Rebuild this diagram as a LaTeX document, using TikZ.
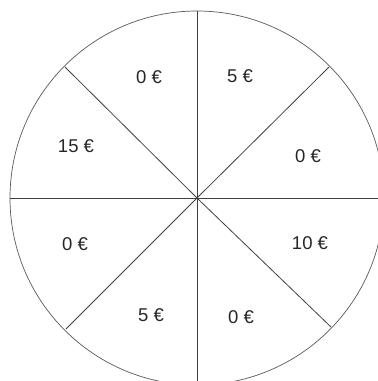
\documentclass[tikz,border=0pt]{standalone}
\usepackage{fontspec}
\setmainfont{Liberation Sans}
\usetikzlibrary{calc}
\begin{document}
\begin{tikzpicture}[x=1pt,y=-1pt,
  rim/.style={draw=black!65, line width=0.7pt},
  spoke/.style={draw=black!75, line width=0.8pt},
  amount/.style={font=\fontsize{18.5}{20}\selectfont, text=black!85, inner sep=0pt}]
\useasboundingbox (0,0) rectangle (378,381);
\clip (0,0) rectangle (378,381);
\coordinate (c) at (197,198);
\draw[rim] (c) circle[radius=187];
\coordinate (n) at (197,11);
\coordinate (s) at (197,385);
\coordinate (w) at (10,198);
\coordinate (e) at (384,198);
\coordinate (nw) at ($(c)+(-132,-131)$);
\coordinate (ne) at ($(c)+(132,-131)$);
\coordinate (sw) at ($(c)+(-131,131)$);
\coordinate (se) at ($(c)+(134,129)$);
\foreach \p in {n,s,w,e,nw,ne,sw,se}{ \draw[spoke] (c) -- (\p); }
\node[amount] (t1) at (149,77) {0 €};
\node[amount] (t2) at (240,76) {5 €};
\node[amount] (t3) at (76,146) {15 €};
\node[amount] (t4) at (308,156) {0 €};
\node[amount] (t5) at (75,244) {0 €};
\node[amount] (t6) at (310,243) {10 €};
\node[amount] (t7) at (151,315) {5 €};
\node[amount] (t8) at (241,317) {0 €};
\end{tikzpicture}
\end{document}
